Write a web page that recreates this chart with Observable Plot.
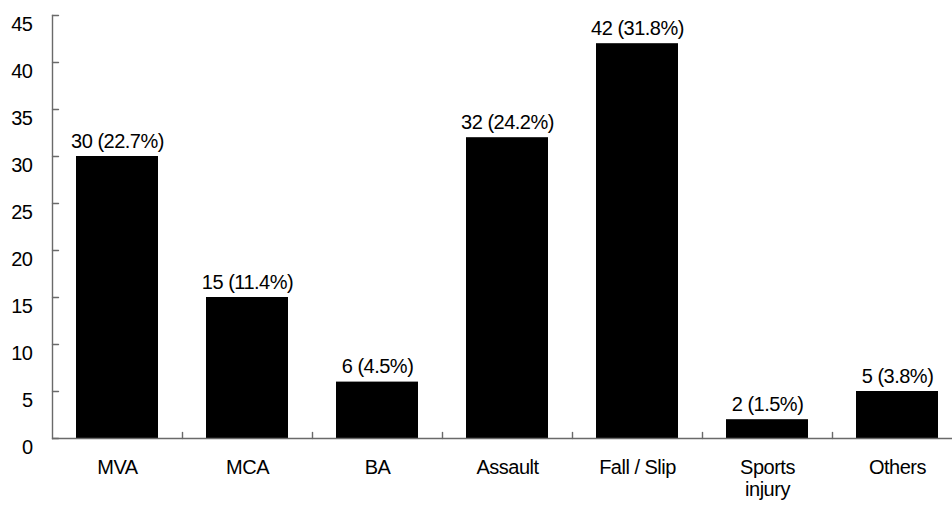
<!DOCTYPE html>
<html>
<head>
<meta charset="utf-8">
<script src="https://cdn.jsdelivr.net/npm/d3@7"></script>
<script src="https://cdn.jsdelivr.net/npm/@observablehq/plot@0.6"></script>
<style>
  html, body { margin: 0; padding: 0; background: #fff; }
  svg { display: block; }
</style>
</head>
<body>
<div id="chart"></div>
<script>
const categories = ["MVA", "MCA", "BA", "Assault", "Fall / Slip", "Sports\ninjury", "Others"];
const counts = [30, 15, 6, 32, 42, 2, 5];
const valueLabels = ["30 (22.7%)", "15 (11.4%)", "6 (4.5%)", "32 (24.2%)", "42 (31.8%)", "2 (1.5%)", "5 (3.8%)"];
const yTicks = [0, 5, 10, 15, 20, 25, 30, 35, 40, 45];

const data = categories.map((c, i) => ({cat: c, count: counts[i], label: valueLabels[i]}));

const axisColor = "#6a6a6a";
const tickShape = {draw(context, l) { context.moveTo(0, 0); context.lineTo(0, -l); }};
const xRange = [52, 962];
const step = (xRange[1] - xRange[0]) / categories.length;

const chart = Plot.plot({
  width: 952,
  height: 509,
  marginTop: 15,
  marginBottom: 71,
  marginLeft: 52,
  marginRight: 0,
  style: {fontFamily: "'Liberation Sans', Arial, sans-serif", fontSize: "20px", letterSpacing: "-0.5px", color: "#000", background: "#fff"},
  x: {domain: categories, range: xRange, paddingInner: 0.37, paddingOuter: 0.185, label: null},
  y: {domain: [0, 45], label: null},
  marks: [
    Plot.barY(data, {x: "cat", y: "count", fill: "#000"}),
    Plot.text(data, {x: "cat", y: "count", text: "label", lineAnchor: "bottom", dy: -9, fontSize: 20, fill: "#000"}),
    Plot.frame({anchor: "left", stroke: axisColor, strokeWidth: 1.4}),
    Plot.ruleY([0], {stroke: axisColor, strokeWidth: 1.4}),
    Plot.vector(yTicks, {y: d => d, frameAnchor: "left", rotate: 90, length: 6, anchor: "start", shape: tickShape, stroke: axisColor, strokeWidth: 1.4}),
    Plot.vector(categories.slice(1), {x: d => d, frameAnchor: "bottom", rotate: 0, length: 6, anchor: "start", shape: tickShape, dx: -step / 2, stroke: axisColor, strokeWidth: 1.4}),
    Plot.axisY({ticks: yTicks, tickSize: 0, tickPadding: 20, dy: 9, fontSize: 20, fill: "#000", label: null}),
    Plot.axisX({tickSize: 0, tickPadding: 20, lineHeight: 1.1, fontSize: 20, fill: "#000", label: null})
  ]
});
document.getElementById("chart").appendChild(chart);
</script>
</body>
</html>
